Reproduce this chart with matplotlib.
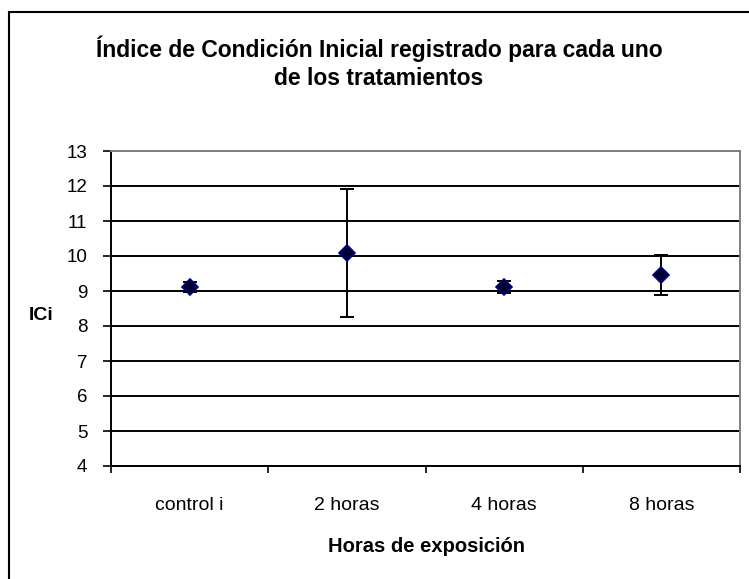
import numpy as np
import matplotlib.pyplot as plt
from matplotlib.lines import Line2D

plt.rcParams['font.family'] = ['Liberation Sans', 'DejaVu Sans']

# Data
categories = ["control i", "2 horas", "4 horas", "8 horas"]
ici_mean = [9.12, 10.09, 9.12, 9.47]
ici_err = [0.14, 1.82, 0.17, 0.57]

W, H = 749, 579
fig = plt.figure(figsize=(W / 100, H / 100), dpi=100)
ax = fig.add_axes([111 / W, 1 - 466 / H, (740 - 111) / W, (466 - 151) / H])

x = np.arange(len(categories)) + 0.5
ax.errorbar(x, ici_mean, yerr=ici_err, fmt='none', ecolor='black',
            elinewidth=1.4, capsize=5, capthick=1.4, zorder=3)
ax.plot(x, ici_mean, linestyle='none', marker='D', markersize=8.5,
        markerfacecolor='#000030', markeredgecolor='#000080',
        markeredgewidth=1.2, zorder=4)

ax.set_xlim(0, len(categories))
ax.set_ylim(4, 13)
ax.set_yticks(range(4, 14))
ax.set_xticks(range(len(categories) + 1))
ax.set_xticklabels([])
ax.set_xticks(x, minor=True)
ax.set_xticklabels(categories, minor=True, fontsize=14)
ax.tick_params(axis='x', which='minor', length=0, pad=22)
ax.tick_params(axis='x', which='major', direction='out', length=5,
               width=1.2, color='black')
ax.tick_params(axis='y', direction='out', length=6, width=1.2,
               labelsize=13.5, pad=11)

ax.yaxis.grid(True, color='black', linewidth=1.4)
ax.set_axisbelow(True)
for s in ['left', 'bottom']:
    ax.spines[s].set_color('black')
    ax.spines[s].set_linewidth(1.4)
for s in ['top', 'right']:
    ax.spines[s].set_color('#808080')
    ax.spines[s].set_linewidth(1.4)

fig.text(426 / W, 1 - 546 / H, "Horas de exposición", fontsize=14.5,
         fontweight='bold', ha='center', va='center')
fig.text(41 / W, 1 - 315 / H, "ICi", fontsize=14, fontweight='bold',
         ha='center', va='center')

fig.text(379 / W, 1 - 57 / H,
         "Índice de Condición Inicial registrado para cada uno",
         fontsize=16.5, fontweight='bold', ha='center', va='baseline')
fig.text(379 / W, 1 - 85 / H, "de los tratamientos",
         fontsize=16.5, fontweight='bold', ha='center', va='baseline')

# outer chart border (only left and top edges visible)
fig.add_artist(Line2D([9 / W, 9 / W], [0, 1 - 12 / H], color='black',
                      linewidth=1.5, transform=fig.transFigure))
fig.add_artist(Line2D([9 / W, 1], [1 - 12 / H, 1 - 12 / H], color='black',
                      linewidth=1.5, transform=fig.transFigure))

fig.savefig('out.png', dpi=100)
